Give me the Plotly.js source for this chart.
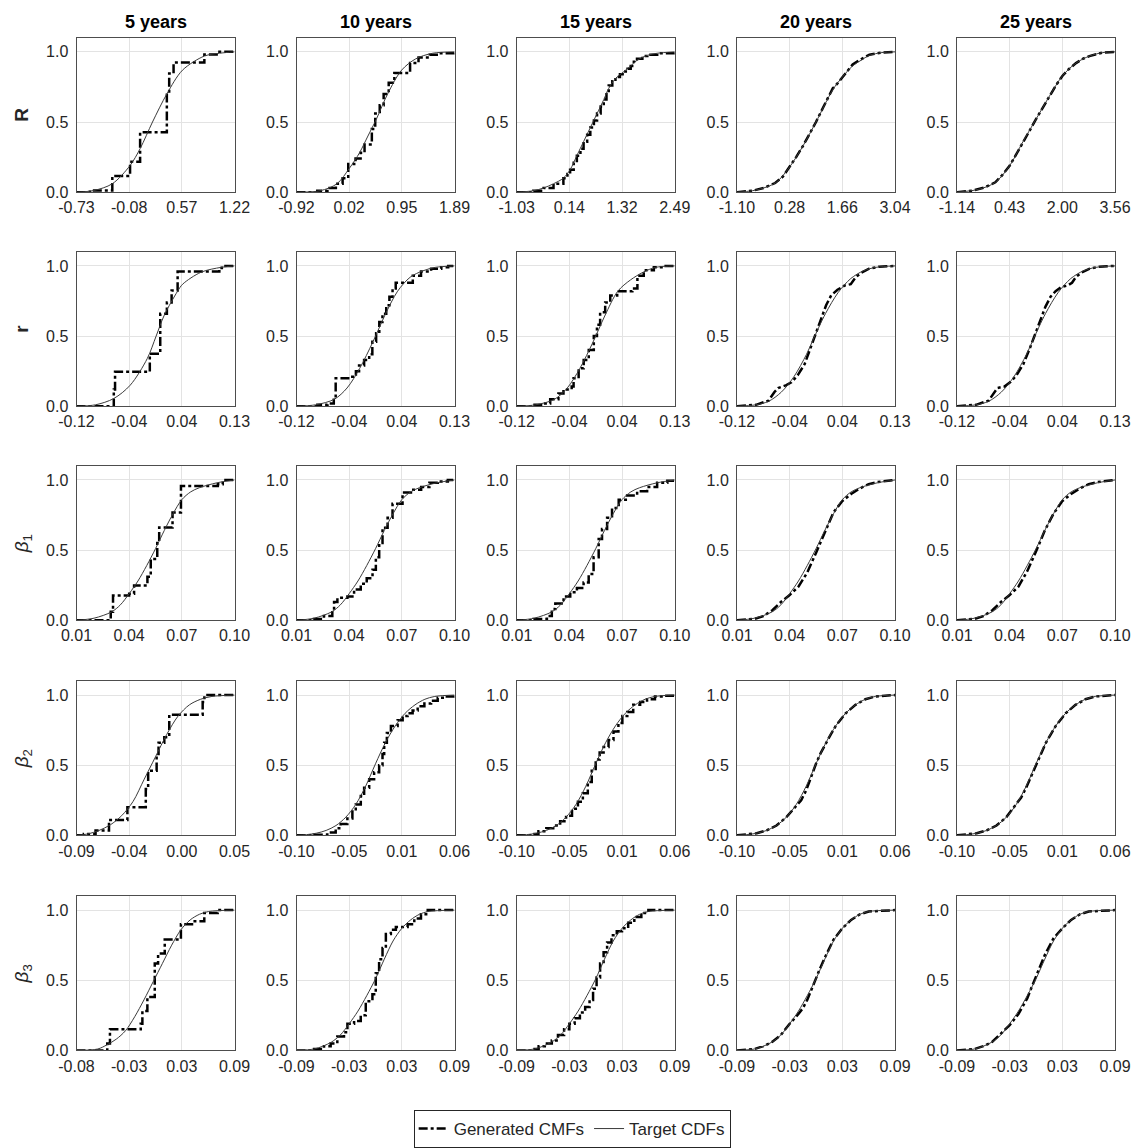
<!DOCTYPE html>
<html>
<head>
<meta charset="utf-8">
<script src="https://cdn.plot.ly/plotly-3.0.1.min.js"></script>
<style>html,body{margin:0;padding:0;background:#fff;}#chart{width:1133px;height:1148px;}</style>
</head>
<body>
<div id="chart"></div>
<script>
// ---------- labels ----------
const colTitles = ['5 years', '10 years', '15 years', '20 years', '25 years'];
const rowLabels = ['<b>R</b>', '<b>r</b>', '<i>β</i><sub>1</sub>', '<i>β</i><sub>2</sub>', '<i>β</i><sub>3</sub>'];
const yTickVals = [0, 0.5, 1.0];
const yTickText = ['0.0', '0.5', '1.0'];

// ---------- x ranges and tick labels ----------
const R5_range = [-0.73, 1.22];  const R5_ticks = ['-0.73', '-0.08', '0.57', '1.22'];
const R10_range = [-0.92, 1.89]; const R10_ticks = ['-0.92', '0.02', '0.95', '1.89'];
const R15_range = [-1.03, 2.49]; const R15_ticks = ['-1.03', '0.14', '1.32', '2.49'];
const R20_range = [-1.10, 3.04]; const R20_ticks = ['-1.10', '0.28', '1.66', '3.04'];
const R25_range = [-1.14, 3.56]; const R25_ticks = ['-1.14', '0.43', '2.00', '3.56'];
const r_range = [-0.12, 0.13];   const r_ticks = ['-0.12', '-0.04', '0.04', '0.13'];
const b1_range = [0.01, 0.10];   const b1_ticks = ['0.01', '0.04', '0.07', '0.10'];
const b2_5_range = [-0.09, 0.05]; const b2_5_ticks = ['-0.09', '-0.04', '0.00', '0.05'];
const b2_range = [-0.10, 0.06];  const b2_ticks = ['-0.10', '-0.05', '0.01', '0.06'];
const b3_5_range = [-0.083, 0.088]; const b3_5_ticks = ['-0.08', '-0.03', '0.03', '0.09'];
const b3_range = [-0.09, 0.09];  const b3_ticks = ['-0.09', '-0.03', '0.03', '0.09'];

// ---------- Row R ----------
const R5_gx = [-0.73, -0.565, -0.288, -0.069, 0.055, 0.385, 0.414, 0.468, 0.848, 1.034, 1.22];
const R5_gy = [0, 0.012, 0.116, 0.216, 0.427, 0.704, 0.846, 0.924, 0.981, 1.0, 1.0];
const R5_tx = [-0.73, -0.515, -0.288, -0.069, 0.055, 0.208, 0.385, 0.579, 0.848, 1.034, 1.22];
const R5_ty = [0, 0.012, 0.06, 0.19, 0.31, 0.50, 0.70, 0.87, 0.97, 0.99, 1.0];

const R10_gx = [-0.92, -0.55, -0.37, -0.22, -0.10, 0.0, 0.13, 0.22, 0.29, 0.42, 0.48, 0.56, 0.63, 0.72, 0.82, 1.1, 1.25, 1.45, 1.62, 1.89];
const R10_gy = [0, 0.01, 0.03, 0.06, 0.10, 0.20, 0.24, 0.28, 0.34, 0.45, 0.56, 0.62, 0.70, 0.78, 0.85, 0.92, 0.96, 0.98, 0.99, 1.0];
const R10_tx = [-0.92, -0.5, -0.2, 0.02, 0.2, 0.35, 0.5, 0.7, 0.95, 1.2, 1.5, 1.89];
const R10_ty = [0, 0.01, 0.06, 0.17, 0.28, 0.40, 0.52, 0.70, 0.87, 0.95, 0.99, 1.0];

const R15_gx = [-1.03, -0.66, -0.43, -0.21, 0.01, 0.10, 0.16, 0.24, 0.31, 0.39, 0.46, 0.54, 0.61, 0.69, 0.76, 0.84, 0.91, 0.97, 1.02, 1.10, 1.17, 1.27, 1.36, 1.44, 1.51, 1.58, 1.65, 1.77, 1.88, 2.1, 2.49];
const R15_gy = [0, 0.01, 0.03, 0.06, 0.10, 0.13, 0.16, 0.21, 0.26, 0.31, 0.36, 0.41, 0.46, 0.51, 0.56, 0.61, 0.66, 0.71, 0.76, 0.79, 0.82, 0.84, 0.86, 0.88, 0.90, 0.93, 0.95, 0.97, 0.98, 0.99, 1.0];
const R15_tx = [-1.03, -0.66, -0.43, -0.21, 0.01, 0.16, 0.31, 0.46, 0.61, 0.76, 0.91, 1.02, 1.17, 1.36, 1.51, 1.65, 1.88, 2.1, 2.49];
const R15_ty = [0, 0.01, 0.03, 0.06, 0.10, 0.16, 0.26, 0.36, 0.46, 0.56, 0.66, 0.74, 0.81, 0.86, 0.90, 0.94, 0.975, 0.99, 1.0];

const R20_gx = [-1.10, -0.7, -0.4, -0.1, 0.1, 0.28, 0.45, 0.63, 0.8, 0.97, 1.15, 1.3, 1.41, 1.55, 1.66, 1.8, 1.93, 2.1, 2.37, 2.7, 3.04];
const R20_gy = [0, 0.01, 0.03, 0.065, 0.11, 0.18, 0.25, 0.33, 0.41, 0.50, 0.60, 0.68, 0.74, 0.78, 0.82, 0.87, 0.91, 0.94, 0.98, 0.995, 1.0];
const R20_tx = [-1.10, -0.7, -0.4, -0.07, 0.28, 0.63, 0.97, 1.41, 1.66, 1.93, 2.15, 2.37, 2.7, 3.04];
const R20_ty = [0, 0.01, 0.03, 0.07, 0.18, 0.33, 0.50, 0.73, 0.82, 0.90, 0.94, 0.975, 0.995, 1.0];

const R25_gx = [-1.14, -0.7, -0.3, 0.0, 0.2, 0.43, 0.6, 0.8, 1.0, 1.21, 1.4, 1.6, 1.8, 2.0, 2.2, 2.4, 2.6, 2.8, 3.2, 3.56];
const R25_gy = [0, 0.01, 0.035, 0.07, 0.12, 0.19, 0.26, 0.35, 0.43, 0.52, 0.60, 0.68, 0.76, 0.83, 0.88, 0.92, 0.95, 0.97, 0.995, 1.0];
const R25_tx = [-1.14, -0.5, 0.0, 0.43, 0.8, 1.21, 1.6, 2.0, 2.4, 2.8, 3.2, 3.56];
const R25_ty = [0, 0.02, 0.07, 0.19, 0.35, 0.52, 0.68, 0.83, 0.92, 0.97, 0.995, 1.0];

// ---------- Row r ----------
const r5_gx = [-0.12, -0.061, -0.059, -0.004, 0.0125, 0.023, 0.0305, 0.04, 0.106, 0.11, 0.13];
const r5_gy = [0, 0.12, 0.245, 0.374, 0.659, 0.74, 0.825, 0.96, 0.985, 1.0, 1.0];
const r5_tx = [-0.12, -0.09, -0.061, -0.035, -0.008, 0.006, 0.019, 0.04, 0.048, 0.077, 0.109, 0.13];
const r5_ty = [0, 0.01, 0.055, 0.15, 0.34, 0.5, 0.65, 0.82, 0.87, 0.955, 0.99, 1.0];

const r10_gx = [-0.12, -0.087, -0.071, -0.061, -0.058, -0.034, -0.026, -0.021, -0.013, -0.005, 0.0, 0.006, 0.011, 0.016, 0.022, 0.027, 0.032, 0.037, 0.064, 0.077, 0.093, 0.109, 0.12, 0.13];
const r10_gy = [0, 0.01, 0.02, 0.06, 0.20, 0.21, 0.25, 0.29, 0.33, 0.37, 0.46, 0.52, 0.60, 0.66, 0.72, 0.78, 0.84, 0.88, 0.93, 0.96, 0.98, 0.99, 1.0, 1.0];
const r10_tx = [-0.12, -0.09, -0.06, -0.04, -0.02, 0.0, 0.01, 0.02, 0.04, 0.06, 0.08, 0.10, 0.13];
const r10_ty = [0, 0.01, 0.05, 0.13, 0.27, 0.45, 0.55, 0.65, 0.82, 0.92, 0.965, 0.99, 1.0];

const r15_gx = [-0.12, -0.094, -0.078, -0.067, -0.054, -0.046, -0.033, -0.03, -0.022, -0.014, -0.006, 0.002, 0.007, 0.012, 0.02, 0.028, 0.039, 0.063, 0.071, 0.081, 0.097, 0.113, 0.13];
const r15_gy = [0, 0.01, 0.02, 0.05, 0.09, 0.12, 0.14, 0.20, 0.27, 0.33, 0.40, 0.50, 0.58, 0.67, 0.74, 0.79, 0.82, 0.84, 0.93, 0.97, 0.99, 1.0, 1.0];
const r15_tx = [-0.12, -0.09, -0.06, -0.04, -0.02, 0.0, 0.01, 0.02, 0.04, 0.06, 0.08, 0.10, 0.13];
const r15_ty = [0, 0.01, 0.05, 0.13, 0.27, 0.45, 0.55, 0.65, 0.82, 0.90, 0.955, 0.99, 1.0];

const r20_gx = [-0.12, -0.09, -0.07, -0.061, -0.055, -0.042, -0.034, -0.024, -0.013, -0.003, 0.005, 0.013, 0.021, 0.029, 0.039, 0.05, 0.06, 0.068, 0.076, 0.089, 0.105, 0.13];
const r20_gy = [0, 0.01, 0.04, 0.10, 0.13, 0.15, 0.17, 0.22, 0.30, 0.42, 0.52, 0.62, 0.72, 0.79, 0.83, 0.86, 0.87, 0.92, 0.95, 0.98, 0.995, 1.0];
const r20_tx = [-0.12, -0.09, -0.07, -0.05, -0.03, -0.01, 0.0, 0.02, 0.04, 0.06, 0.08, 0.10, 0.13];
const r20_ty = [0, 0.01, 0.035, 0.10, 0.21, 0.37, 0.47, 0.66, 0.81, 0.91, 0.965, 0.99, 1.0];

const r25_gx = [-0.12, -0.09, -0.07, -0.062, -0.056, -0.045, -0.036, -0.026, -0.015, -0.005, 0.004, 0.012, 0.02, 0.028, 0.036, 0.045, 0.055, 0.062, 0.068, 0.076, 0.09, 0.105, 0.13];
const r25_gy = [0, 0.01, 0.04, 0.09, 0.13, 0.14, 0.17, 0.22, 0.30, 0.41, 0.52, 0.62, 0.71, 0.78, 0.82, 0.85, 0.86, 0.88, 0.92, 0.95, 0.98, 0.995, 1.0];
const r25_tx = [-0.12, -0.09, -0.07, -0.05, -0.03, -0.01, 0.0, 0.02, 0.04, 0.06, 0.08, 0.10, 0.13];
const r25_ty = [0, 0.01, 0.035, 0.10, 0.21, 0.37, 0.47, 0.66, 0.81, 0.91, 0.965, 0.99, 1.0];

// ---------- Row beta1 ----------
const b1_5_gx = [0.01, 0.0295, 0.0308, 0.04, 0.0428, 0.0504, 0.0523, 0.056, 0.0571, 0.0647, 0.0695, 0.0905, 0.0933, 0.10];
const b1_5_gy = [0, 0.06, 0.177, 0.19, 0.248, 0.31, 0.437, 0.55, 0.662, 0.768, 0.957, 0.97, 1.0, 1.0];
const b1_tx = [0.01, 0.02, 0.03, 0.035, 0.04, 0.045, 0.05, 0.055, 0.06, 0.065, 0.07, 0.075, 0.08, 0.09, 0.10];
const b1_ty = [0, 0.015, 0.06, 0.11, 0.19, 0.28, 0.39, 0.51, 0.64, 0.76, 0.86, 0.915, 0.945, 0.98, 1.0];

const b1_10_gx = [0.01, 0.0199, 0.0256, 0.0304, 0.0314, 0.0333, 0.039, 0.0428, 0.0466, 0.05, 0.0533, 0.0552, 0.0571, 0.059, 0.0619, 0.0647, 0.0704, 0.0752, 0.081, 0.0857, 0.0905, 0.0962, 0.10];
const b1_10_gy = [0, 0.01, 0.03, 0.07, 0.13, 0.16, 0.17, 0.22, 0.26, 0.30, 0.36, 0.45, 0.55, 0.66, 0.73, 0.83, 0.91, 0.93, 0.95, 0.98, 0.99, 1.0, 1.0];

const b1_15_gx = [0.01, 0.0195, 0.0272, 0.03, 0.032, 0.0367, 0.0405, 0.0443, 0.0481, 0.051, 0.0538, 0.0567, 0.0586, 0.0615, 0.0643, 0.0681, 0.0729, 0.0786, 0.0843, 0.09, 0.0958, 0.10];
const b1_15_gy = [0, 0.01, 0.03, 0.08, 0.12, 0.17, 0.20, 0.23, 0.27, 0.33, 0.45, 0.58, 0.65, 0.73, 0.80, 0.86, 0.89, 0.92, 0.95, 0.98, 0.995, 1.0];

const b1_20_gx = [0.01, 0.02, 0.025, 0.03, 0.035, 0.04, 0.045, 0.05, 0.055, 0.06, 0.065, 0.07, 0.075, 0.08, 0.085, 0.09, 0.10];
const b1_20_gy = [0, 0.01, 0.03, 0.07, 0.13, 0.18, 0.24, 0.34, 0.48, 0.63, 0.77, 0.85, 0.90, 0.94, 0.97, 0.985, 1.0];

const b1_25_gx = [0.01, 0.02, 0.025, 0.03, 0.035, 0.04, 0.045, 0.05, 0.055, 0.06, 0.065, 0.07, 0.075, 0.08, 0.085, 0.09, 0.10];
const b1_25_gy = [0, 0.01, 0.03, 0.07, 0.13, 0.18, 0.24, 0.35, 0.49, 0.64, 0.76, 0.85, 0.90, 0.94, 0.97, 0.985, 1.0];

// ---------- Row beta2 ----------
const b2_5_gx = [-0.09, -0.0835, -0.0731, -0.0612, -0.0449, -0.0286, -0.0265, -0.019, -0.0173, -0.0122, -0.0078, 0.0218, 0.0233, 0.05];
const b2_5_gy = [0, 0.01, 0.035, 0.11, 0.20, 0.33, 0.46, 0.58, 0.66, 0.70, 0.86, 0.95, 1.0, 1.0];
const b2_5_tx = [-0.09, -0.08, -0.07, -0.06, -0.05, -0.04, -0.03, -0.02, -0.01, 0.0, 0.01, 0.02, 0.03, 0.05];
const b2_5_ty = [0, 0.01, 0.035, 0.075, 0.14, 0.24, 0.40, 0.56, 0.72, 0.85, 0.93, 0.97, 0.99, 1.0];

const b2_tx = [-0.10, -0.09, -0.08, -0.07, -0.06, -0.05, -0.04, -0.03, -0.02, -0.01, 0.0, 0.01, 0.02, 0.03, 0.04, 0.06];
const b2_ty = [0, 0.005, 0.015, 0.035, 0.07, 0.13, 0.22, 0.35, 0.51, 0.66, 0.78, 0.87, 0.93, 0.97, 0.99, 1.0];

const b2_10_gx = [-0.10, -0.0824, -0.0688, -0.0603, -0.0553, -0.0485, -0.0434, -0.04, -0.0349, -0.0315, -0.0264, -0.0214, -0.0163, -0.0129, -0.0112, -0.0085, -0.0044, 0.0024, 0.0075, 0.0125, 0.0176, 0.0227, 0.0295, 0.0363, 0.043, 0.0498, 0.06];
const b2_10_gy = [0, 0.005, 0.02, 0.05, 0.08, 0.12, 0.17, 0.22, 0.28, 0.34, 0.40, 0.45, 0.50, 0.58, 0.66, 0.73, 0.78, 0.82, 0.85, 0.87, 0.89, 0.92, 0.94, 0.96, 0.98, 0.99, 1.0];

const b2_15_gx = [-0.10, -0.085, -0.078, -0.07, -0.063, -0.056, -0.05, -0.044, -0.038, -0.033, -0.028, -0.024, -0.02, -0.016, -0.012, -0.007, -0.002, 0.003, 0.007, 0.012, 0.018, 0.025, 0.032, 0.04, 0.048, 0.06];
const b2_15_gy = [0, 0.01, 0.03, 0.05, 0.07, 0.10, 0.14, 0.19, 0.24, 0.30, 0.38, 0.46, 0.54, 0.59, 0.63, 0.68, 0.74, 0.80, 0.85, 0.88, 0.93, 0.95, 0.97, 0.99, 0.995, 1.0];

const b2_20_gx = [-0.10, -0.09, -0.08, -0.07, -0.06, -0.05, -0.04, -0.035, -0.03, -0.025, -0.02, -0.015, -0.01, -0.005, 0.0, 0.01, 0.02, 0.03, 0.04, 0.06];
const b2_20_gy = [0, 0.005, 0.015, 0.035, 0.07, 0.13, 0.21, 0.25, 0.32, 0.42, 0.51, 0.59, 0.66, 0.72, 0.78, 0.87, 0.93, 0.97, 0.99, 1.0];

const b2_25_gx = [-0.10, -0.09, -0.08, -0.07, -0.06, -0.05, -0.04, -0.035, -0.03, -0.025, -0.02, -0.015, -0.01, -0.005, 0.0, 0.01, 0.02, 0.03, 0.04, 0.06];
const b2_25_gy = [0, 0.005, 0.015, 0.035, 0.07, 0.13, 0.22, 0.27, 0.34, 0.42, 0.51, 0.59, 0.66, 0.72, 0.78, 0.87, 0.93, 0.97, 0.99, 1.0];

// ---------- Row beta3 ----------
const b3_5_gx = [-0.083, -0.0497, -0.0468, -0.0135, -0.0117, -0.0063, 0.0017, 0.0053, 0.0125, 0.03, 0.042, 0.0553, 0.0698, 0.088];
const b3_5_gy = [0, 0.05, 0.15, 0.19, 0.28, 0.38, 0.62, 0.69, 0.79, 0.90, 0.92, 0.98, 1.0, 1.0];
const b3_5_tx = [-0.083, -0.06, -0.05, -0.04, -0.03, -0.02, -0.01, 0.0, 0.01, 0.02, 0.03, 0.04, 0.05, 0.06, 0.088];
const b3_5_ty = [0, 0.01, 0.04, 0.08, 0.14, 0.24, 0.36, 0.49, 0.62, 0.75, 0.86, 0.93, 0.97, 0.99, 1.0];

const b3_tx = [-0.09, -0.07, -0.06, -0.05, -0.04, -0.03, -0.02, -0.01, 0.0, 0.01, 0.02, 0.03, 0.04, 0.05, 0.06, 0.09];
const b3_ty = [0, 0.01, 0.03, 0.06, 0.11, 0.19, 0.28, 0.39, 0.51, 0.65, 0.78, 0.87, 0.93, 0.97, 0.99, 1.0];

const b3_10_gx = [-0.09, -0.07, -0.0587, -0.0511, -0.0435, -0.0359, -0.032, -0.0244, -0.0168, -0.0111, -0.0035, 0.0003, 0.0041, 0.008, 0.0118, 0.0175, 0.0232, 0.0366, 0.0442, 0.0518, 0.0595, 0.09];
const b3_10_gy = [0, 0.01, 0.03, 0.05, 0.10, 0.13, 0.19, 0.21, 0.25, 0.35, 0.40, 0.55, 0.65, 0.73, 0.83, 0.86, 0.88, 0.90, 0.94, 0.97, 1.0, 1.0];

const b3_15_gx = [-0.09, -0.072, -0.065, -0.058, -0.05, -0.043, -0.036, -0.03, -0.024, -0.018, -0.012, -0.007, -0.003, 0.001, 0.005, 0.009, 0.013, 0.018, 0.024, 0.03, 0.037, 0.044, 0.052, 0.06, 0.09];
const b3_15_gy = [0, 0.01, 0.03, 0.05, 0.07, 0.11, 0.15, 0.19, 0.23, 0.27, 0.31, 0.36, 0.44, 0.52, 0.62, 0.70, 0.77, 0.82, 0.85, 0.87, 0.91, 0.95, 0.98, 1.0, 1.0];

const b3_20_gx = [-0.09, -0.07, -0.06, -0.05, -0.04, -0.03, -0.02, -0.015, -0.01, -0.005, 0.0, 0.005, 0.01, 0.02, 0.03, 0.04, 0.05, 0.06, 0.09];
const b3_20_gy = [0, 0.01, 0.03, 0.06, 0.11, 0.19, 0.26, 0.30, 0.36, 0.44, 0.52, 0.59, 0.66, 0.79, 0.87, 0.93, 0.97, 0.99, 1.0];

const b3_25_gx = [-0.09, -0.07, -0.06, -0.05, -0.04, -0.03, -0.02, -0.015, -0.01, -0.005, 0.0, 0.005, 0.01, 0.02, 0.03, 0.04, 0.05, 0.06, 0.09];
const b3_25_gy = [0, 0.01, 0.03, 0.06, 0.12, 0.18, 0.26, 0.31, 0.37, 0.45, 0.53, 0.61, 0.68, 0.80, 0.87, 0.93, 0.97, 0.99, 1.0];

// ---------- panel table (row-major) ----------
const panels = [
  [R5_gx, R5_gy, R5_tx, R5_ty, R5_range, R5_ticks, 'hv'],
  [R10_gx, R10_gy, R10_tx, R10_ty, R10_range, R10_ticks, 'hv'],
  [R15_gx, R15_gy, R15_tx, R15_ty, R15_range, R15_ticks, 'hv'],
  [R20_gx, R20_gy, R20_tx, R20_ty, R20_range, R20_ticks, 'linear'],
  [R25_gx, R25_gy, R25_tx, R25_ty, R25_range, R25_ticks, 'linear'],
  [r5_gx, r5_gy, r5_tx, r5_ty, r_range, r_ticks, 'hv'],
  [r10_gx, r10_gy, r10_tx, r10_ty, r_range, r_ticks, 'hv'],
  [r15_gx, r15_gy, r15_tx, r15_ty, r_range, r_ticks, 'hv'],
  [r20_gx, r20_gy, r20_tx, r20_ty, r_range, r_ticks, 'linear'],
  [r25_gx, r25_gy, r25_tx, r25_ty, r_range, r_ticks, 'linear'],
  [b1_5_gx, b1_5_gy, b1_tx, b1_ty, b1_range, b1_ticks, 'hv'],
  [b1_10_gx, b1_10_gy, b1_tx, b1_ty, b1_range, b1_ticks, 'hv'],
  [b1_15_gx, b1_15_gy, b1_tx, b1_ty, b1_range, b1_ticks, 'hv'],
  [b1_20_gx, b1_20_gy, b1_tx, b1_ty, b1_range, b1_ticks, 'linear'],
  [b1_25_gx, b1_25_gy, b1_tx, b1_ty, b1_range, b1_ticks, 'linear'],
  [b2_5_gx, b2_5_gy, b2_5_tx, b2_5_ty, b2_5_range, b2_5_ticks, 'hv'],
  [b2_10_gx, b2_10_gy, b2_tx, b2_ty, b2_range, b2_ticks, 'hv'],
  [b2_15_gx, b2_15_gy, b2_tx, b2_ty, b2_range, b2_ticks, 'hv'],
  [b2_20_gx, b2_20_gy, b2_tx, b2_ty, b2_range, b2_ticks, 'linear'],
  [b2_25_gx, b2_25_gy, b2_tx, b2_ty, b2_range, b2_ticks, 'linear'],
  [b3_5_gx, b3_5_gy, b3_5_tx, b3_5_ty, b3_5_range, b3_5_ticks, 'hv'],
  [b3_10_gx, b3_10_gy, b3_tx, b3_ty, b3_range, b3_ticks, 'hv'],
  [b3_15_gx, b3_15_gy, b3_tx, b3_ty, b3_range, b3_ticks, 'hv'],
  [b3_20_gx, b3_20_gy, b3_tx, b3_ty, b3_range, b3_ticks, 'linear'],
  [b3_25_gx, b3_25_gy, b3_tx, b3_ty, b3_range, b3_ticks, 'linear']
];

// ---------- layout geometry (pixels) ----------
const W = 1133, H = 1148;
const colLeft = [76.5, 296.5, 516.7, 737, 957];
const colW = 158;
const rowTop = [38, 253, 468, 684, 900];
const rowH = 155;
const FONT = '"Liberation Sans", Arial, Helvetica, sans-serif';
const TXT = '#262626';

const traces = [];
const layout = {
  width: W, height: H,
  margin: {l: 0, r: 0, t: 0, b: 0},
  paper_bgcolor: '#ffffff', plot_bgcolor: '#ffffff',
  font: {family: FONT, size: 16, color: TXT},
  showlegend: true,
  legend: {
    orientation: 'h', x: 0.505, xanchor: 'center', y: 1 - 1134 / H, yanchor: 'middle',
    bordercolor: '#262626', borderwidth: 1, bgcolor: '#ffffff',
    font: {family: FONT, size: 17, color: TXT},
    itemwidth: 30, tracegroupgap: 0
  },
  annotations: []
};

panels.forEach((p, k) => {
  const row = Math.floor(k / 5), col = k % 5;
  const id = k === 0 ? '' : String(k + 1);
  const [gx, gy, tx, ty, rng, tt, shape] = p;
  const xa = 'x' + id, ya = 'y' + id;
  traces.push({
    x: gx, y: gy, xaxis: xa, yaxis: ya, type: 'scatter', mode: 'lines',
    name: 'Generated CMFs', legendgroup: 'g', showlegend: k === 0,
    line: {color: '#000000', width: 2.5, dash: 'dashdot', shape: shape},
    hoverinfo: 'skip'
  });
  traces.push({
    x: tx, y: ty, xaxis: xa, yaxis: ya, type: 'scatter', mode: 'lines',
    name: 'Target CDFs', legendgroup: 't', showlegend: k === 0,
    line: {color: '#3a3a3a', width: 1, shape: 'spline', smoothing: 0.9},
    hoverinfo: 'skip'
  });
  const tv = [0, 1, 2, 3].map(i => rng[0] + (rng[1] - rng[0]) * i / 3);
  layout['xaxis' + id] = {
    domain: [colLeft[col] / W, (colLeft[col] + colW) / W],
    anchor: ya, range: rng, tickvals: tv, ticktext: tt,
    showgrid: true, gridcolor: '#e3e3e3', gridwidth: 1, zeroline: false,
    showline: true, mirror: true, linecolor: '#4d4d4d', linewidth: 1,
    ticks: '', ticklabelstandoff: 1,
    tickfont: {family: FONT, size: 16, color: TXT}, fixedrange: true
  };
  const yax = {
    domain: [1 - (rowTop[row] + rowH) / H, 1 - rowTop[row] / H],
    anchor: xa, range: [0, 1.1], tickvals: yTickVals, ticktext: yTickText,
    showgrid: true, gridcolor: '#e3e3e3', gridwidth: 1, zeroline: false,
    showline: true, mirror: true, linecolor: '#4d4d4d', linewidth: 1,
    ticks: '', ticklabelstandoff: 4,
    tickfont: {family: FONT, size: 16, color: TXT}, fixedrange: true
  };
  if (col === 0) {
    yax.title = {text: rowLabels[row], font: {family: FONT, size: 19, color: TXT}, standoff: 12};
  }
  layout['yaxis' + id] = yax;
});

colTitles.forEach((t, c) => {
  layout.annotations.push({
    text: '<b>' + t + '</b>', xref: 'paper', yref: 'paper',
    x: (colLeft[c] + colW / 2) / W, y: 1 - 22 / H, xanchor: 'center', yanchor: 'middle',
    showarrow: false, font: {family: FONT, size: 18, color: '#000000'}
  });
});

Plotly.newPlot('chart', traces, layout, {displayModeBar: false, staticPlot: true});
</script>
</body>
</html>
